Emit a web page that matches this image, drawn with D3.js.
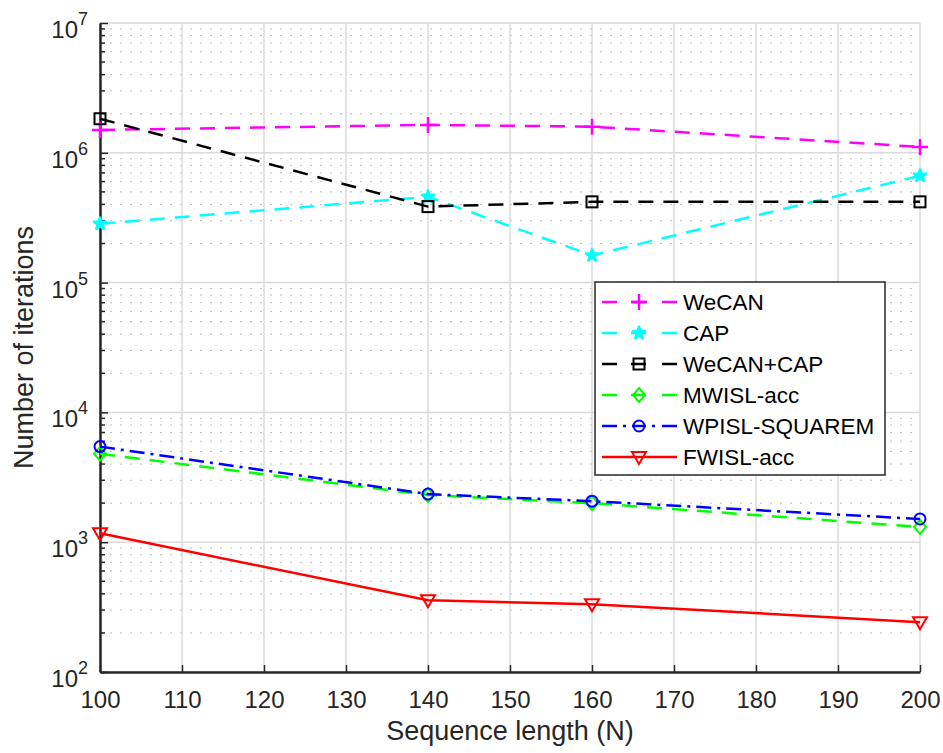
<!DOCTYPE html>
<html>
<head>
<meta charset="utf-8">
<script src="https://cdn.jsdelivr.net/npm/d3@7"></script>
<style>
  body { margin: 0; background: #fff; }
  text { font-family: "Liberation Sans", Arial, sans-serif; }
</style>
</head>
<body>
<div id="chart"></div>
<script>
// Iterations vs sequence length (log scale)

var lengths = [100, 140, 160, 200];
var xTicks = [100, 110, 120, 130, 140, 150, 160, 170, 180, 190, 200];
var yDecades = [2, 3, 4, 5, 6, 7];

var wecan = [1.50e6, 1.64e6, 1.59e6, 1.11e6];
var cap = [2.84e5, 4.58e5, 1.62e5, 6.65e5];
var wecanCap = [1.83e6, 3.85e5, 4.19e5, 4.19e5];
var mwislAcc = [4.8e3, 2.31e3, 2.0e3, 1.31e3];
var wpislSquarem = [5.45e3, 2.35e3, 2.07e3, 1.51e3];
var fwislAcc = [1.17e3, 357, 333, 242];

var seriesNames = ["WeCAN", "CAP", "WeCAN+CAP", "MWISL-acc", "WPISL-SQUAREM", "FWISL-acc"];

var width = 943;
var height = 753;
var margin = { left: 100, right: 23, top: 23, bottom: 81 };

var svg = d3.select("#chart")
            .append("svg")
            .attr("width", width)
            .attr("height", height);

var x = d3.scaleLinear()
          .domain([100, 200])
          .range([margin.left, width - margin.right]);

var y = d3.scaleLog()
          .domain([1e2, 1e7])
          .range([height - margin.bottom, margin.top]);

// minor values 2..9 x 10^k
var minorVals = [];
for (var k = 2; k < 7; k++) {
    for (var m = 2; m <= 9; m++) minorVals.push(m * Math.pow(10, k));
}

var grid = svg.append("g");

// minor horizontal grid (dotted)
grid.selectAll(".minor")
    .data(minorVals)
    .enter()
    .append("line")
    .attr("x1", x(100)).attr("x2", x(200))
    .attr("y1", function(d) { return y(d); })
    .attr("y2", function(d) { return y(d); })
    .attr("stroke", "#bdbdbd")
    .attr("stroke-width", 1)
    .attr("stroke-dasharray", "2,8");

// major grid
grid.selectAll(".majY")
    .data(yDecades)
    .enter()
    .append("line")
    .attr("x1", x(100)).attr("x2", x(200))
    .attr("y1", function(d) { return y(Math.pow(10, d)); })
    .attr("y2", function(d) { return y(Math.pow(10, d)); })
    .attr("stroke", "#dadada")
    .attr("stroke-width", 1.5);

grid.selectAll(".majX")
    .data(xTicks)
    .enter()
    .append("line")
    .attr("x1", function(d) { return x(d); })
    .attr("x2", function(d) { return x(d); })
    .attr("y1", y(1e2)).attr("y2", y(1e7))
    .attr("stroke", "#dadada")
    .attr("stroke-width", 1.5);

// axes
var xAxis = d3.axisBottom(x)
              .tickValues(xTicks)
              .tickSize(-7)
              .tickSizeOuter(0)
              .tickPadding(19);

var gx = svg.append("g")
            .attr("transform", "translate(0," + y(1e2) + ")")
            .call(xAxis);
gx.select(".domain").attr("stroke", "#262626").attr("stroke-width", 2.5);
gx.selectAll(".tick line").attr("stroke", "#262626").attr("stroke-width", 1.5);
gx.selectAll(".tick text")
  .attr("font-size", 24)
  .attr("fill", "#262626")
  .style("font-family", "Liberation Sans, Arial, sans-serif");

var yAxis = d3.axisLeft(y)
              .tickValues(yDecades.map(function(d) { return Math.pow(10, d); }))
              .tickSize(-8)
              .tickSizeOuter(0)
              .tickFormat("");

var gy = svg.append("g")
            .attr("transform", "translate(" + x(100) + ",0)")
            .call(yAxis);
gy.select(".domain").attr("stroke", "#262626").attr("stroke-width", 2.5);
gy.selectAll(".tick line").attr("stroke", "#262626").attr("stroke-width", 1.5);

// minor ticks on y
gy.selectAll(".minorTick")
  .data(minorVals)
  .enter()
  .append("line")
  .attr("x1", 0).attr("x2", 5)
  .attr("y1", function(d) { return y(d); })
  .attr("y2", function(d) { return y(d); })
  .attr("stroke", "#262626")
  .attr("stroke-width", 1.5);

// y tick labels as 10^k
var yLab = svg.append("g").selectAll("text")
              .data(yDecades)
              .enter()
              .append("text")
              .attr("x", x(100) - 12)
              .attr("y", function(d) { return y(Math.pow(10, d)) + 15; })
              .attr("text-anchor", "end")
              .attr("font-size", 24)
              .attr("fill", "#262626");
yLab.append("tspan").text("10");
yLab.append("tspan")
    .attr("dy", -13)
    .attr("font-size", 18)
    .text(function(d) { return d; });

// axis titles
svg.append("text")
   .attr("x", (x(100) + x(200)) / 2)
   .attr("y", 740)
   .attr("text-anchor", "middle")
   .attr("font-size", 27)
   .attr("fill", "#262626")
   .text("Sequence length (N)");

svg.append("text")
   .attr("transform", "translate(33," + ((y(1e2) + y(1e7)) / 2) + ") rotate(-90)")
   .attr("text-anchor", "middle")
   .attr("font-size", 27)
   .attr("fill", "#262626")
   .text("Number of iterations");

// series
var styles = [
    { values: wecan, color: "#ff00ff", dash: "15,10", marker: "plus" },
    { values: cap, color: "#00ffff", dash: "15,10", marker: "star" },
    { values: wecanCap, color: "#000000", dash: "15,10", marker: "square" },
    { values: mwislAcc, color: "#00ff00", dash: "15,10", marker: "diamond" },
    { values: wpislSquarem, color: "#0000ff", dash: "15,6,3,6", marker: "circle" },
    { values: fwislAcc, color: "#ff0000", dash: null, marker: "triangle" }
];

var line = d3.line()
             .x(function(d) { return x(d[0]); })
             .y(function(d) { return y(d[1]); });

function drawMarker(g, type, color, cx, cy) {
    if (type == "plus") {
        g.append("path")
         .attr("d", "M" + (cx - 8) + "," + cy + "H" + (cx + 8) + "M" + cx + "," + (cy - 8) + "V" + (cy + 8))
         .attr("stroke", color).attr("stroke-width", 2.5).attr("fill", "none");
    } else if (type == "star") {
        g.append("path")
         .attr("transform", "translate(" + cx + "," + cy + ")")
         .attr("d", d3.symbol().type(d3.symbolStar).size(45)())
         .attr("fill", color).attr("stroke", color).attr("stroke-width", 2.5)
         .attr("stroke-linejoin", "round");
    } else if (type == "square") {
        g.append("rect")
         .attr("x", cx - 5.5).attr("y", cy - 5.5)
         .attr("width", 11).attr("height", 11)
         .attr("fill", "none").attr("stroke", color).attr("stroke-width", 2);
    } else if (type == "diamond") {
        g.append("path")
         .attr("d", "M" + cx + "," + (cy - 7) + "L" + (cx + 6) + "," + cy + "L" + cx + "," + (cy + 7) + "L" + (cx - 6) + "," + cy + "Z")
         .attr("fill", "none").attr("stroke", color).attr("stroke-width", 2);
    } else if (type == "circle") {
        g.append("circle")
         .attr("cx", cx).attr("cy", cy).attr("r", 5.5)
         .attr("fill", "none").attr("stroke", color).attr("stroke-width", 2);
    } else if (type == "triangle") {
        g.append("path")
         .attr("d", "M" + (cx - 7) + "," + (cy - 5) + "L" + (cx + 7) + "," + (cy - 5) + "L" + cx + "," + (cy + 7) + "Z")
         .attr("fill", "none").attr("stroke", color).attr("stroke-width", 2);
    }
}

var plot = svg.append("g");

styles.forEach(function(s) {
    var pts = lengths.map(function(n, i) { return [n, s.values[i]]; });
    plot.append("path")
        .datum(pts)
        .attr("d", line)
        .attr("fill", "none")
        .attr("stroke", s.color)
        .attr("stroke-width", 2.5)
        .attr("stroke-dasharray", s.dash);
    pts.forEach(function(p) {
        drawMarker(plot, s.marker, s.color, x(p[0]), y(p[1]));
    });
});

// legend
var legend = svg.append("g").attr("transform", "translate(595,282)");

legend.append("rect")
      .attr("width", 290)
      .attr("height", 193)
      .attr("fill", "#fff")
      .attr("stroke", "#262626")
      .attr("stroke-width", 1.5);

styles.forEach(function(s, i) {
    var ly = 20 + i * 31;
    var lg = legend.append("g");
    var segs = [[7, 82]];
    if (s.dash == "15,10") segs = [[7, 22], [36, 51], [67, 82]];
    else if (s.dash) segs = [[7, 22], [28, 31], [37, 51], [57, 60], [67, 82]];
    segs.forEach(function(sg) {
        lg.append("line")
          .attr("x1", sg[0]).attr("x2", sg[1])
          .attr("y1", ly).attr("y2", ly)
          .attr("stroke", s.color).attr("stroke-width", 2.5);
    });
    drawMarker(lg, s.marker, s.color, 44, ly);
    lg.append("text")
      .attr("x", 88)
      .attr("y", ly + 8)
      .attr("font-size", 22.5)
      .attr("fill", "#000")
      .text(seriesNames[i]);
});
</script>
</body>
</html>
